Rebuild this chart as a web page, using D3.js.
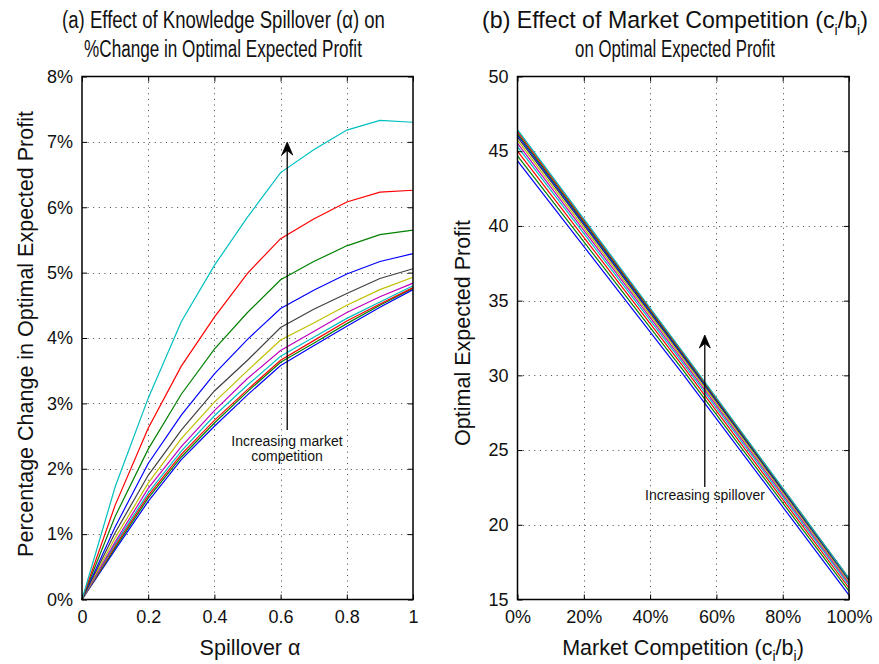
<!DOCTYPE html>
<html>
<head>
<meta charset="utf-8">
<script src="https://cdn.jsdelivr.net/npm/d3@7"></script>
<style>
  html, body { margin: 0; padding: 0; background: #fff; }
  svg { display: block; font-family: "Liberation Sans", Arial, Helvetica, sans-serif; }
</style>
</head>
<body>
<div id="chart"></div>
<script>
// spillover levels (x of left panel)
const spillover = [0, 0.1, 0.2, 0.3, 0.4, 0.5, 0.6, 0.7, 0.8, 0.9, 1];

// % change in optimal expected profit, one row per market competition level (low -> high)
const pctChange = [
  [0, 0.76, 1.50, 2.14, 2.65, 3.13, 3.58, 3.88, 4.18, 4.47, 4.74],
  [0, 0.79, 1.55, 2.18, 2.70, 3.18, 3.63, 3.92, 4.22, 4.50, 4.76],
  [0, 0.82, 1.59, 2.22, 2.74, 3.21, 3.66, 3.96, 4.26, 4.52, 4.77],
  [0, 0.85, 1.63, 2.27, 2.81, 3.28, 3.72, 4.01, 4.30, 4.55, 4.80],
  [0, 0.88, 1.70, 2.34, 2.89, 3.38, 3.81, 4.10, 4.39, 4.63, 4.84],
  [0, 0.94, 1.78, 2.46, 3.02, 3.50, 3.97, 4.23, 4.50, 4.74, 4.93],
  [0, 1.02, 1.90, 2.59, 3.19, 3.66, 4.16, 4.44, 4.68, 4.91, 5.06],
  [0, 1.11, 2.08, 2.82, 3.45, 3.98, 4.45, 4.73, 4.98, 5.17, 5.29],
  [0, 1.27, 2.30, 3.14, 3.83, 4.39, 4.89, 5.17, 5.41, 5.58, 5.65],
  [0, 1.44, 2.62, 3.57, 4.32, 4.99, 5.52, 5.82, 6.08, 6.23, 6.26],
  [0, 1.72, 3.08, 4.25, 5.11, 5.85, 6.53, 6.88, 7.18, 7.33, 7.30]
];

// market competition c_i/b_i (x of right panel)
const competition = [0, 0.5, 1];

// optimal expected profit, one row per spillover level (0 -> 1)
const profit = [
  [44.35, 30.05, 15.30],
  [44.69, 30.33, 15.56],
  [45.01, 30.58, 15.77],
  [45.30, 30.79, 15.95],
  [45.53, 30.96, 16.08],
  [45.74, 31.10, 16.20],
  [45.94, 31.24, 16.30],
  [46.07, 31.32, 16.35],
  [46.20, 31.40, 16.40],
  [46.33, 31.47, 16.42],
  [46.45, 31.53, 16.42]
];

const leftXTicks = [0, 0.2, 0.4, 0.6, 0.8, 1];
const leftYTicks = [0, 1, 2, 3, 4, 5, 6, 7, 8];
const rightXTicks = [0, 0.2, 0.4, 0.6, 0.8, 1];
const rightYTicks = [15, 20, 25, 30, 35, 40, 45, 50];

// matlab's old default color order
const colorOrder = ['#0000ff', '#008000', '#ff0000', '#00bfbf', '#bf00bf', '#bfbf00', '#404040'];

const W = 879, H = 664;
const yTop = 76.5, yBot = 599.5;

const svg = d3.select('#chart').append('svg')
  .attr('width', W)
  .attr('height', H);

svg.append('rect').attr('width', W).attr('height', H).attr('fill', '#fff');

const drawPanel = (opts) => {
  const { x0, x1, xDomain, yDomain, xTicks, yTicks, xFmt, yFmt } = opts;
  const x = d3.scaleLinear().domain(xDomain).range([x0, x1]);
  const y = d3.scaleLinear().domain(yDomain).range([yBot, yTop]);
  const g = svg.append('g');

  // dotted grid
  const grid = g.append('g')
    .attr('stroke', '#444')
    .attr('stroke-width', 1)
    .attr('stroke-dasharray', '1,4.6');
  grid.selectAll('.gx')
    .data(xTicks.slice(1, -1))
    .join('line')
    .attr('x1', d => Math.round(x(d)) + 0.5).attr('x2', d => Math.round(x(d)) + 0.5)
    .attr('y1', yTop).attr('y2', yBot);
  grid.selectAll('.gy')
    .data(yTicks.slice(1, -1))
    .join('line')
    .attr('y1', d => Math.round(y(d)) + 0.5).attr('y2', d => Math.round(y(d)) + 0.5)
    .attr('x1', x0).attr('x2', x1);

  // lines
  const line = d3.line().x(d => x(d[0])).y(d => y(d[1]));
  g.append('g')
    .attr('fill', 'none')
    .attr('stroke-width', 1.2)
    .selectAll('path')
    .data(opts.series)
    .join('path')
    .attr('stroke', (d, i) => colorOrder[i % colorOrder.length])
    .attr('d', d => line(d));

  // axes, ticks pointing inward like matlab
  const tk = 5;
  const styleAxis = sel => {
    sel.select('.domain').remove();
    sel.selectAll('line').attr('stroke', '#000').attr('stroke-width', 1);
    sel.selectAll('text').attr('fill', '#111').attr('font-family', null).style('font-size', '18px');
  };
  g.append('g')
    .attr('transform', `translate(0,${yBot})`)
    .call(d3.axisBottom(x).tickValues(xTicks).tickFormat(xFmt).tickSize(-tk).tickPadding(10.5))
    .call(styleAxis);
  g.append('g')
    .attr('transform', `translate(${x0},0)`)
    .call(d3.axisLeft(y).tickValues(yTicks).tickFormat(yFmt).tickSize(-tk).tickPadding(9))
    .call(styleAxis);
  g.append('g')
    .attr('transform', `translate(0,${yTop})`)
    .call(d3.axisTop(x).tickValues(xTicks).tickFormat('').tickSize(-tk))
    .call(styleAxis);
  g.append('g')
    .attr('transform', `translate(${x1},0)`)
    .call(d3.axisRight(y).tickValues(yTicks).tickFormat('').tickSize(-tk))
    .call(styleAxis);

  g.append('rect')
    .attr('x', x0).attr('y', yTop)
    .attr('width', x1 - x0).attr('height', yBot - yTop)
    .attr('fill', 'none')
    .attr('stroke', '#000')
    .attr('stroke-width', 1.5);

  return { x, y, g };
};

// ---- left panel
const left = drawPanel({
  x0: 82, x1: 413,
  xDomain: [0, 1], yDomain: [0, 8],
  xTicks: leftXTicks, yTicks: leftYTicks,
  xFmt: d => (d === 0 || d === 1) ? String(d) : d3.format('.1f')(d),
  yFmt: d => d + '%',
  series: pctChange.map(row => row.map((v, i) => [spillover[i], v]))
});

// ---- right panel
const right = drawPanel({
  x0: 517.5, x1: 849,
  xDomain: [0, 1], yDomain: [15, 50],
  xTicks: rightXTicks, yTicks: rightYTicks,
  xFmt: d => Math.round(d * 100) + '%',
  yFmt: d => String(d),
  series: profit.map(row => row.map((v, i) => [competition[i], v]))
});

// ---- arrows + notes
const arrow = (x, yFrom, yTo) => {
  svg.append('line')
    .attr('x1', x).attr('x2', x)
    .attr('y1', yFrom).attr('y2', yTo + 6)
    .attr('stroke', '#000').attr('stroke-width', 1.3);
  svg.append('path')
    .attr('d', `M${x},${yTo} L${x - 5.5},${yTo + 13} L${x},${yTo + 8.5} L${x + 5.5},${yTo + 13} Z`)
    .attr('fill', '#000')
    .attr('stroke', '#000')
    .attr('stroke-width', 0.8)
    .attr('stroke-linejoin', 'miter');
};

arrow(left.x(0.62), 430, 142);
const noteL = svg.append('text')
  .attr('text-anchor', 'middle')
  .attr('fill', '#111')
  .style('font-size', '14px');
noteL.append('tspan').attr('x', 287).attr('y', 445.5).text('Increasing market');
noteL.append('tspan').attr('x', 287).attr('y', 461).text('competition');

arrow(right.x(0.565), 487, 335);
svg.append('text')
  .attr('x', 705).attr('y', 500)
  .attr('text-anchor', 'middle')
  .attr('fill', '#111')
  .style('font-size', '14px')
  .text('Increasing spillover');

// ---- axis labels
const label = (x, y, rot) => svg.append('text')
  .attr('transform', `translate(${x},${y}) rotate(${rot})`)
  .attr('text-anchor', 'middle')
  .attr('fill', '#111')
  .style('font-size', '21.5px');

label(250, 655, 0).text('Spillover α');
label(33, 334, -90).text('Percentage Change in Optimal Expected Profit');
label(470, 333, -90).text('Optimal Expected Profit');

const xlabR = label(683, 655, 0);
xlabR.append('tspan').text('Market Competition (c');
xlabR.append('tspan').attr('dy', 6).style('font-size', '14px').text('i');
xlabR.append('tspan').attr('dy', -6).text('/b');
xlabR.append('tspan').attr('dy', 6).style('font-size', '14px').text('i');
xlabR.append('tspan').attr('dy', -6).text(')');

// ---- titles, squeezed to a narrow face
const title = (cx, y, width, build) => {
  const t = svg.append('text')
    .attr('text-anchor', 'middle')
    .attr('fill', '#111')
    .style('font-size', '24.5px');
  build(t);
  const w = t.node().getComputedTextLength();
  t.attr('transform', `translate(${cx},${y}) scale(${width / w},1)`);
};

title(223.5, 28, 323, t => t.text('(a) Effect of Knowledge Spillover (α) on'));
title(223, 57, 278, t => t.text('%Change in Optimal Expected Profit'));
title(675, 28, 386, t => {
  t.append('tspan').text('(b) Effect of Market Competition (c');
  t.append('tspan').attr('dy', 7).style('font-size', '15px').text('i');
  t.append('tspan').attr('dy', -7).text('/b');
  t.append('tspan').attr('dy', 7).style('font-size', '15px').text('i');
  t.append('tspan').attr('dy', -7).text(')');
});
title(675, 57, 200, t => t.text('on Optimal Expected Profit'));
</script>
</body>
</html>
